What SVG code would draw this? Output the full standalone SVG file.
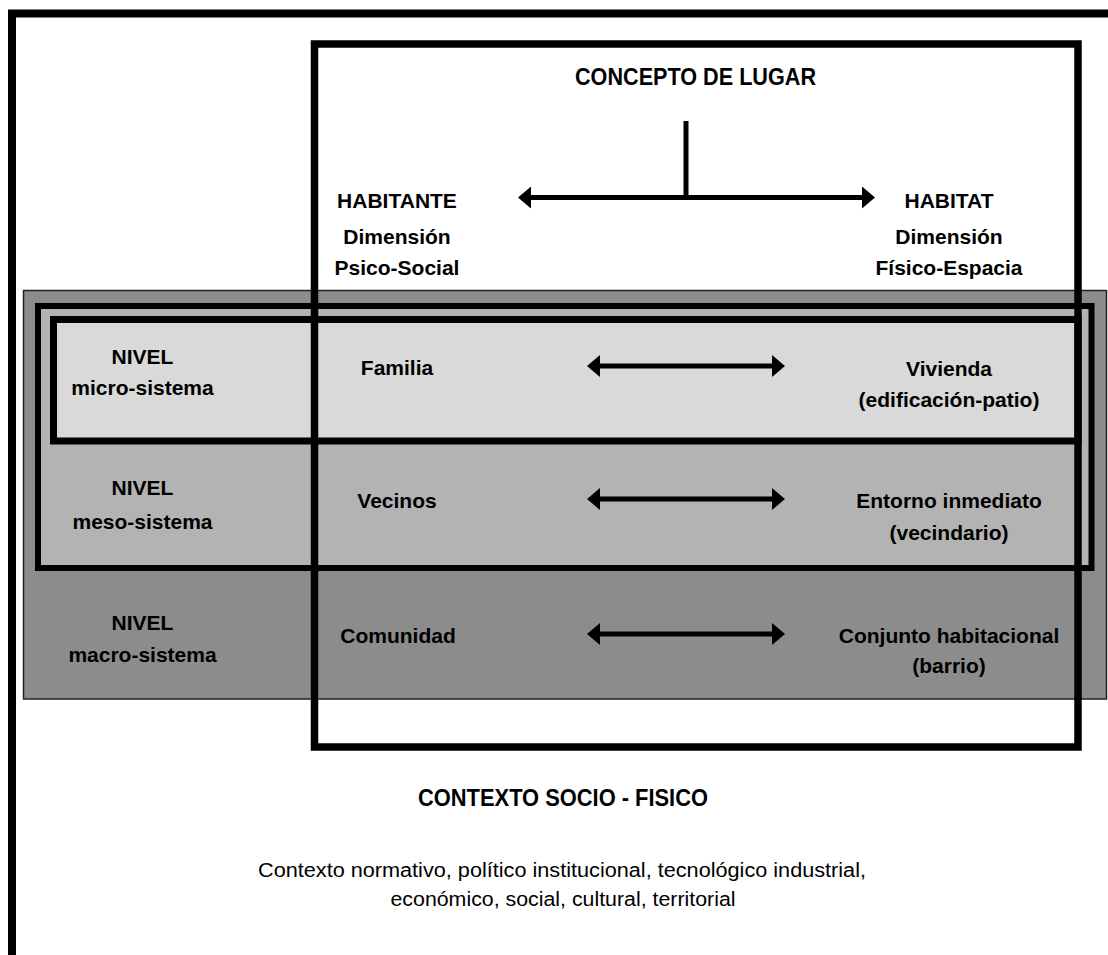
<svg xmlns="http://www.w3.org/2000/svg" width="1108" height="955" viewBox="0 0 1108 955">
<style>
  text { font-family: "Liberation Sans", Arial, sans-serif; fill: #000; text-anchor: middle; }
  .b { font-weight: bold; font-size: 21px; }
  .title { font-weight: bold; font-size: 24px; }
  .reg { font-size: 20px; }
  .frame { fill: none; stroke: #000; }
  .conn { stroke: #000; stroke-width: 5; fill: none; }
</style>
<defs>
  <marker id="ah" viewBox="0 0 13 22" refX="5" refY="11" markerWidth="13" markerHeight="22" markerUnits="userSpaceOnUse" orient="auto-start-reverse">
    <path d="M0,0 L13,11 L0,22 Z" fill="#000"/>
  </marker>
</defs>
<rect width="1108" height="955" fill="#fff"/>

<g id="bands">
  <rect id="macro-band" x="23.5" y="290.5" width="1083" height="408.5" fill="#8c8c8c" stroke="#222" stroke-width="1.5"/>
  <rect id="meso-band" x="38" y="306" width="1053.5" height="262" fill="#b3b3b3" stroke="#000" stroke-width="6"/>
  <rect id="micro-band" x="53.5" y="319.5" width="1024.5" height="121.5" fill="#d9d9d9" stroke="#000" stroke-width="7"/>
</g>

<g id="concepto-frame">
  <rect class="frame" x="314.5" y="44" width="763.5" height="703" stroke-width="7.5"/>
</g>
<g id="outer-frame">
  <rect class="frame" x="12" y="13.5" width="1110" height="960" stroke-width="8"/>
</g>

<g id="connectors">
  <line class="conn" x1="686" y1="121" x2="686" y2="197.5"/>
  <line class="conn" x1="526" y1="197.5" x2="867" y2="197.5" marker-start="url(#ah)" marker-end="url(#ah)"/>
  <line class="conn" x1="595" y1="366" x2="777" y2="366" marker-start="url(#ah)" marker-end="url(#ah)"/>
  <line class="conn" x1="595" y1="499" x2="777" y2="499" marker-start="url(#ah)" marker-end="url(#ah)"/>
  <line class="conn" x1="595" y1="634" x2="777" y2="634" marker-start="url(#ah)" marker-end="url(#ah)"/>
</g>

<g id="concepto-lugar">
  <text class="title" x="695.5" y="85" textLength="241" lengthAdjust="spacingAndGlyphs">CONCEPTO DE LUGAR</text>
</g>
<g id="habitante">
  <text class="b" x="397" y="208">HABITANTE</text>
  <text class="b" x="397" y="244">Dimensión</text>
  <text class="b" x="397" y="275">Psico-Social</text>
</g>
<g id="habitat">
  <text class="b" x="949" y="208">HABITAT</text>
  <text class="b" x="949" y="244">Dimensión</text>
  <text class="b" x="949" y="275">Físico-Espacia</text>
</g>

<g id="nivel-micro">
  <text class="b" x="142.5" y="364">NIVEL</text>
  <text class="b" x="142.5" y="395">micro-sistema</text>
</g>
<g id="nivel-meso">
  <text class="b" x="142.5" y="495">NIVEL</text>
  <text class="b" x="142.5" y="529">meso-sistema</text>
</g>
<g id="nivel-macro">
  <text class="b" x="142.5" y="630">NIVEL</text>
  <text class="b" x="142.5" y="662">macro-sistema</text>
</g>

<g id="familia"><text class="b" x="397" y="375">Familia</text></g>
<g id="vecinos"><text class="b" x="397" y="508">Vecinos</text></g>
<g id="comunidad"><text class="b" x="398" y="643">Comunidad</text></g>

<g id="vivienda">
  <text class="b" x="949" y="376">Vivienda</text>
  <text class="b" x="949" y="407">(edificación-patio)</text>
</g>
<g id="entorno">
  <text class="b" x="949" y="508">Entorno inmediato</text>
  <text class="b" x="949" y="540">(vecindario)</text>
</g>
<g id="conjunto">
  <text class="b" x="949" y="643">Conjunto habitacional</text>
  <text class="b" x="949" y="673">(barrio)</text>
</g>

<g id="contexto">
  <text class="title" x="563" y="806" textLength="290" lengthAdjust="spacingAndGlyphs">CONTEXTO SOCIO - FISICO</text>
  <text class="reg" x="562" y="877" textLength="608" lengthAdjust="spacingAndGlyphs">Contexto normativo, político institucional, tecnológico industrial,</text>
  <text class="reg" x="563" y="906" textLength="345" lengthAdjust="spacingAndGlyphs">económico, social, cultural, territorial</text>
</g>
</svg>
